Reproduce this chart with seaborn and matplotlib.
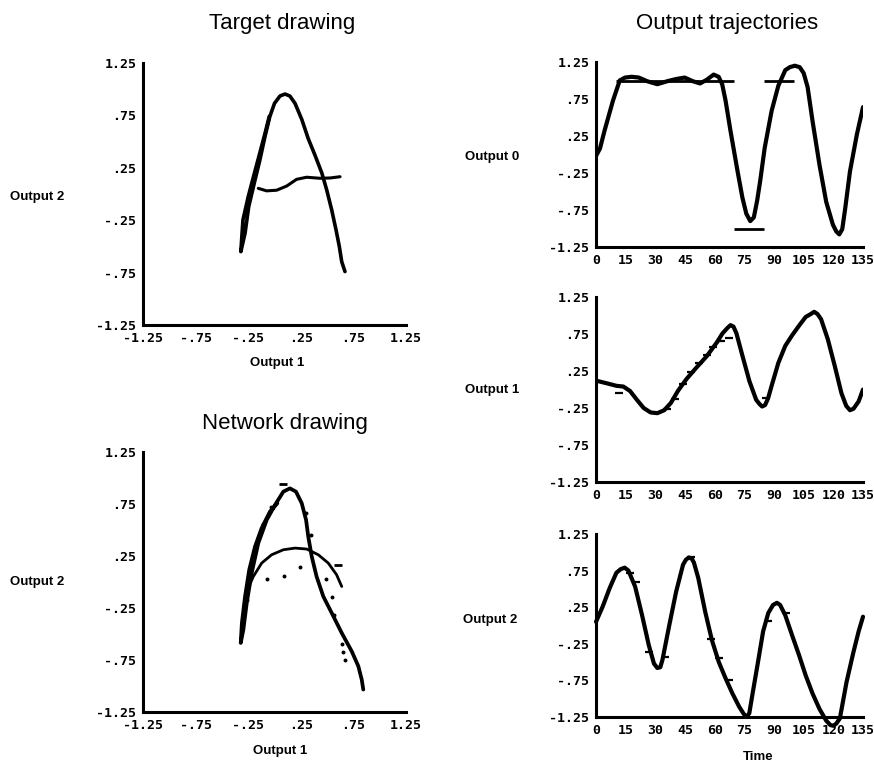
import matplotlib
matplotlib.use("Agg")
import matplotlib.pyplot as plt
import seaborn as sns

# --- Data ---
XY_TICKS = [-1.25, -0.75, -0.25, 0.25, 0.75, 1.25]
XY_TICK_LABELS = ["-1.25", "-.75", "-.25", ".25", ".75", "1.25"]
TIME_TICKS = [0, 15, 30, 45, 60, 75, 90, 105, 120, 135]
TIME_TICK_LABELS = ["0", "15", "30", "45", "60", "75", "90", "105", "120", "135"]

# target drawing: the "A" stroke and its crossbar (Output 1, Output 2)
TARGET_STROKE_X = [-0.05, -0.09, -0.14, -0.20, -0.25, -0.30, -0.32, -0.28, -0.245,
                   -0.185, -0.14, -0.09, -0.044, 0.0, 0.052, 0.10, 0.146, 0.195,
                   0.26, 0.32, 0.385, 0.45, 0.496, 0.544, 0.585, 0.616, 0.639, 0.67]
TARGET_STROKE_Y = [0.74, 0.58, 0.39, 0.165, -0.026, -0.248, -0.55, -0.375, -0.12,
                   0.134, 0.32, 0.55, 0.74, 0.865, 0.935, 0.954, 0.935, 0.865,
                   0.71, 0.53, 0.37, 0.20, 0.04, -0.153, -0.343, -0.50, -0.646, -0.74]
TARGET_BAR_X = [-0.154, -0.075, 0.02, 0.116, 0.21, 0.306, 0.433, 0.53, 0.623]
TARGET_BAR_Y = [0.054, 0.03, 0.036, 0.076, 0.14, 0.16, 0.15, 0.153, 0.165]

# network drawing
NET_STROKE_X = [0.027, -0.043, -0.122, -0.185, -0.24, -0.28, -0.31, -0.321, -0.296,
                -0.264, -0.217, -0.154, -0.074, 0.005, 0.084, 0.147, 0.204, 0.259,
                0.30, 0.321, 0.354, 0.40, 0.464, 0.544, 0.639, 0.734, 0.797, 0.829, 0.844]
NET_STROKE_Y = [0.757, 0.677, 0.518, 0.341, 0.118, -0.14, -0.394, -0.586, -0.458,
                -0.202, 0.086, 0.374, 0.597, 0.741, 0.869, 0.90, 0.869, 0.757,
                0.597, 0.437, 0.245, 0.053, -0.139, -0.298, -0.49, -0.666, -0.81, -0.938, -1.034]
NET_BAR_X = [-0.264, -0.201, -0.122, -0.027, 0.084, 0.195, 0.306, 0.416, 0.511, 0.59, 0.639]
NET_BAR_Y = [-0.09, 0.053, 0.182, 0.262, 0.31, 0.326, 0.317, 0.262, 0.182, 0.07, -0.043]
NET_DOTS_X = [-0.074, 0.093, 0.242, 0.49, 0.544, 0.568, 0.639, 0.654, 0.67, 0.30, 0.344,
              -0.03, -0.11, -0.16, -0.22, -0.265]
NET_DOTS_Y = [0.028, 0.053, 0.143, 0.028, -0.148, -0.314, -0.60, -0.676, -0.746, 0.668, 0.453,
              0.72, 0.56, 0.42, 0.15, -0.17]
NET_DASH_X = [0.084, 0.607]
NET_DASH_Y = [0.943, 0.166]

# output 0 (pen) trajectory and its target segments
OUT0_T = [0, 2, 4.3, 8.6, 12, 14.7, 18, 21.6, 25.9, 31, 36, 40.5, 44.8, 49, 52.6, 56,
          59.5, 62, 63.8, 65.5, 68, 71.6, 74, 76, 78, 79.8, 81.5, 83, 85.3, 88.8, 92.2,
          95.7, 98, 100.5, 103, 105, 107, 109.5, 113, 116.4, 119.8, 121.5, 123, 124.5,
          126, 128.4, 131.9, 135]
OUT0_Y = [-0.02, 0.08, 0.32, 0.73, 1.0, 1.04, 1.05, 1.04, 0.99, 0.95, 0.99, 1.02, 1.04,
          0.99, 0.96, 1.01, 1.08, 1.05, 0.95, 0.73, 0.32, -0.23, -0.58, -0.80, -0.90,
          -0.85, -0.62, -0.36, 0.09, 0.59, 0.93, 1.14, 1.18, 1.20, 1.18, 1.10, 0.91,
          0.45, -0.14, -0.64, -0.95, -1.04, -1.08, -1.01, -0.73, -0.23, 0.27, 0.64]
OUT0_TARGET_START = [10, 70, 85]
OUT0_TARGET_END = [70, 85, 100]
OUT0_TARGET_VAL = [1.0, -1.0, 1.0]

# output 1 trajectory and target marks
OUT1_T = [0, 6, 10.3, 13.8, 17.2, 20.7, 24.1, 27.6, 31, 34.5, 37.9, 41.4, 45.7, 50.9,
          56, 61.2, 64, 66.4, 68, 69.5, 71, 74.1, 77.6, 81, 82.8, 84, 85.5, 87, 88.8,
          92.2, 95.7, 99.1, 102.6, 106, 108.6, 110.3, 112, 113.8, 117.2, 120.7, 124.1,
          126.5, 128.4, 130.2, 132.8, 135]
OUT1_Y = [0.12, 0.08, 0.05, 0.04, -0.02, -0.14, -0.25, -0.31, -0.32, -0.28, -0.18,
          -0.02, 0.14, 0.30, 0.45, 0.64, 0.76, 0.83, 0.87, 0.85, 0.76, 0.45, 0.11,
          -0.14, -0.20, -0.23, -0.21, -0.12, 0.05, 0.36, 0.59, 0.73, 0.86, 0.98, 1.02,
          1.05, 1.02, 0.95, 0.68, 0.32, -0.05, -0.22, -0.28, -0.26, -0.16, 0.0]
OUT1_TARGET_T = [11.5, 36, 40, 44, 48, 52, 56, 59, 63, 67, 86]
OUT1_TARGET_Y = [-0.05, -0.27, -0.13, 0.07, 0.23, 0.36, 0.47, 0.57, 0.66, 0.70, -0.11]

# output 2 trajectory and target marks
OUT2_T = [0, 3.4, 6.9, 10.3, 12.5, 14.5, 16.4, 19.8, 23.3, 26.7, 29.3, 31, 32.5, 33.6,
          37.1, 40.5, 44, 45.5, 47, 48.5, 49.5, 51.7, 55.2, 58.6, 62.1, 65.5, 69, 72.4,
          74.5, 76, 77.5, 79.3, 81.9, 84.5, 87.1, 89.5, 91.5, 93.1, 95.7, 99.1, 102.6,
          106, 109.5, 113, 116.4, 118.5, 120, 121.5, 123.3, 126.7, 130.2, 132.8, 135]
OUT2_Y = [0.05, 0.26, 0.51, 0.72, 0.77, 0.79, 0.75, 0.53, 0.14, -0.27, -0.52, -0.58,
          -0.57, -0.47, 0.01, 0.46, 0.83, 0.90, 0.93, 0.91, 0.86, 0.65, 0.19, -0.20,
          -0.50, -0.72, -0.93, -1.11, -1.20, -1.25, -1.20, -0.91, -0.50, -0.08, 0.17,
          0.28, 0.31, 0.28, 0.14, -0.13, -0.40, -0.68, -0.93, -1.14, -1.30, -1.36,
          -1.37, -1.34, -1.27, -0.77, -0.36, -0.08, 0.12]
OUT2_TARGET_T = [17, 20, 27, 35, 48, 58, 62, 67, 87, 96]
OUT2_TARGET_Y = [0.72, 0.60, -0.36, -0.43, 0.94, -0.18, -0.45, -0.75, 0.06, 0.17]

W, H = 874, 764
MONO = "DejaVu Sans Mono"


def px_axes(fig, x0, y0, x1, y1):
    """Add axes from a pixel box (top-left origin)."""
    return fig.add_axes([x0 / W, 1 - y1 / H, (x1 - x0) / W, (y1 - y0) / H])


def style_axes(ax, xlim, xticks, xlabels):
    sns.despine(ax=ax)
    ax.set_xlim(*xlim)
    ax.set_ylim(-1.25, 1.25)
    for s in ["left", "bottom"]:
        ax.spines[s].set_linewidth(2.2)
        ax.spines[s].set_color("black")
    ax.set_xticks(xticks)
    ax.set_xticklabels(xlabels, fontfamily=MONO, fontweight="bold", fontsize=9.5)
    ax.set_yticks(XY_TICKS)
    ax.set_yticklabels(XY_TICK_LABELS, fontfamily=MONO, fontweight="bold", fontsize=9.5)
    ax.tick_params(direction="inout", length=3.5, width=3, colors="black", pad=3)
    ax.set_xlabel("")
    ax.set_ylabel("")
    ax.set_facecolor("white")


def line(ax, x, y, lw=2.8, clip=True):
    sns.lineplot(x=x, y=y, sort=False, estimator=None, color="black", linewidth=lw,
                 ax=ax, clip_on=clip, solid_capstyle="round", solid_joinstyle="round")


sns.set_theme(style="white")
plt.rcParams["font.family"] = ["Liberation Sans", "DejaVu Sans"]
plt.rcParams["text.color"] = "black"
plt.rcParams["axes.labelcolor"] = "black"

fig = plt.figure(figsize=(W / 100, H / 100), dpi=100)
fig.patch.set_facecolor("white")

# --- Target drawing ---
ax_t = px_axes(fig, 143, 63, 406, 325)
line(ax_t, TARGET_STROKE_X, TARGET_STROKE_Y, lw=2.6)
line(ax_t, TARGET_BAR_X, TARGET_BAR_Y, lw=2.2)
style_axes(ax_t, (-1.25, 1.25), XY_TICKS, XY_TICK_LABELS)

# --- Network drawing ---
ax_n = px_axes(fig, 143, 452, 406, 712)
line(ax_n, NET_STROKE_X, NET_STROKE_Y, lw=2.7)
line(ax_n, NET_BAR_X, NET_BAR_Y, lw=2.0)
sns.scatterplot(x=NET_DOTS_X, y=NET_DOTS_Y, color="black", s=8, linewidth=0, ax=ax_n)
sns.scatterplot(x=NET_DASH_X, y=NET_DASH_Y, color="black", marker="_", s=40,
                linewidth=2, ax=ax_n)
style_axes(ax_n, (-1.25, 1.25), XY_TICKS, XY_TICK_LABELS)

# --- Output trajectories ---
ax0 = px_axes(fig, 596, 62, 863, 247)
line(ax0, OUT0_T, OUT0_Y, lw=3.0)
ax0.hlines(OUT0_TARGET_VAL, OUT0_TARGET_START, OUT0_TARGET_END, color="black", lw=2.0)
style_axes(ax0, (0, 135), TIME_TICKS, TIME_TICK_LABELS)

ax1 = px_axes(fig, 596, 297, 863, 482)
line(ax1, OUT1_T, OUT1_Y, lw=3.0)
sns.scatterplot(x=OUT1_TARGET_T, y=OUT1_TARGET_Y, color="black", marker="_", s=40,
                linewidth=1.6, ax=ax1)
style_axes(ax1, (0, 135), TIME_TICKS, TIME_TICK_LABELS)

ax2 = px_axes(fig, 596, 534, 863, 717)
line(ax2, OUT2_T, OUT2_Y, lw=3.0, clip=False)
sns.scatterplot(x=OUT2_TARGET_T, y=OUT2_TARGET_Y, color="black", marker="_", s=40,
                linewidth=1.6, ax=ax2)
style_axes(ax2, (0, 135), TIME_TICKS, TIME_TICK_LABELS)


# --- Titles and labels ---
def label(x, y, s, size=9.5, weight="bold", ha="center"):
    fig.text(x / W, 1 - y / H, s, ha=ha, va="center", fontsize=size,
             fontweight=weight, color="black")


label(282, 23, "Target drawing", size=16, weight="normal")
label(285, 423, "Network drawing", size=16, weight="normal")
label(727, 23, "Output trajectories", size=16, weight="normal")

label(10, 197, "Output 2", ha="left")
label(277, 363, "Output 1")
label(10, 582, "Output 2", ha="left")
label(280, 751, "Output 1")
label(465, 157, "Output 0", ha="left")
label(465, 390, "Output 1", ha="left")
label(463, 620, "Output 2", ha="left")
label(758, 757, "Time")

fig.savefig("out.png", dpi=100, facecolor="white")
